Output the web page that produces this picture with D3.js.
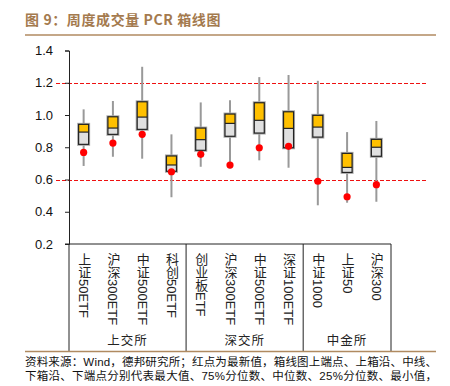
<!DOCTYPE html>
<html>
<head>
<meta charset="utf-8">
<script src="https://cdn.jsdelivr.net/npm/d3@7"></script>
<style>
  body { margin: 0; background: #fff; }
  svg { display: block; font-family: "Liberation Sans", Arial, "Noto Sans CJK SC", sans-serif; }
</style>
</head>
<body>
<div id="chart"></div>
<script>
// categories and groups
const categories = ['上证50ETF', '沪深300ETF', '中证500ETF', '科创50ETF', '创业板ETF', '沪深300ETF', '中证500ETF', '深证100ETF', '中证1000', '上证50', '沪深300'];
const groups = ['上交所', '深交所', '中金所'];
const groupSizes = [4, 4, 3];

// box plot values
const maxV   = [1.035, 1.087, 1.299, 0.880, 1.078, 1.091, 1.235, 1.248, 1.212, 0.894, 0.963];
const q3     = [0.942, 0.989, 1.082, 0.746, 0.919, 1.006, 1.076, 1.020, 0.998, 0.762, 0.849];
const median = [0.894, 0.919, 0.987, 0.690, 0.847, 0.948, 0.967, 0.917, 0.925, 0.675, 0.800];
const q1     = [0.818, 0.880, 0.911, 0.651, 0.781, 0.868, 0.888, 0.797, 0.863, 0.644, 0.744];
const minV   = [0.684, 0.741, 0.729, 0.490, 0.679, 0.667, 0.719, 0.673, 0.440, 0.456, 0.462];
const latest = [0.768, 0.826, 0.880, 0.648, 0.756, 0.690, 0.797, 0.806, 0.589, 0.493, 0.568];

const yTicks = [0.2, 0.4, 0.6, 0.8, 1.0, 1.2, 1.4];
const refLines = [1.2, 0.6];

const width = 450, height = 386;
const plotLeft = 69, plotRight = 391, plotTop = 50.5, plotBottom = 244;

const svg = d3.select('#chart').append('svg')
    .attr('width', width)
    .attr('height', height);

// title
svg.append('text')
    .attr('x', 25).attr('y', 25)
    .attr('fill', '#a47a4e')
    .attr('font-size', 14)
    .attr('font-weight', 'bold')
    .attr('letter-spacing', 0.6)
    .attr('font-family', '"Noto Sans CJK SC", sans-serif')
    .text('图 9：周度成交量 PCR 箱线图');
svg.append('line')
    .attr('x1', 25).attr('x2', 436).attr('y1', 35).attr('y2', 35)
    .attr('stroke', '#b08a60').attr('stroke-width', 1.5);

const x = d3.scaleBand()
    .domain(d3.range(categories.length))
    .range([plotLeft, plotRight]);

const y = d3.scaleLinear()
    .domain([0.2, 1.4])
    .range([plotBottom, plotTop]);

// reference lines
svg.append('g')
    .selectAll('line')
    .data(refLines)
    .join('line')
    .attr('x1', 56).attr('x2', 428)
    .attr('y1', d => Math.round(y(d)) + 0.5).attr('y2', d => Math.round(y(d)) + 0.5)
    .attr('stroke', '#ee1111')
    .attr('stroke-width', 1)
    .attr('stroke-dasharray', '4,2');

// y axis
const yAxis = svg.append('g')
    .attr('transform', `translate(${plotLeft},0)`)
    .call(d3.axisLeft(y).tickValues(yTicks).tickSize(4).tickPadding(12).tickFormat(d3.format('.1f')));
yAxis.select('.domain').attr('stroke', '#222');
yAxis.selectAll('.tick line').attr('stroke', '#222');
yAxis.selectAll('.tick text').attr('font-size', 13).attr('fill', '#111')
    .attr('font-family', '"Liberation Sans", Arial, sans-serif');

// table below the axis
const tableBottom = 351.5;
svg.append('line')
    .attr('x1', plotLeft - 4).attr('x2', plotRight).attr('y1', plotBottom).attr('y2', plotBottom)
    .attr('stroke', '#222');
const bounds = [0];
groupSizes.forEach(n => bounds.push(bounds[bounds.length - 1] + n));
const bx = i => i === categories.length ? x.range()[1] : x(i);
svg.append('g')
    .selectAll('line')
    .data(bounds)
    .join('line')
    .attr('x1', bx).attr('x2', bx)
    .attr('y1', plotBottom).attr('y2', tableBottom)
    .attr('stroke', '#222');

// category labels (vertical text)
svg.append('g')
    .selectAll('text')
    .data(categories)
    .join('text')
    .attr('x', (d, i) => x(i) + x.bandwidth() / 2)
    .attr('y', 253)
    .attr('font-size', 13)
    .attr('fill', '#222')
    .style('writing-mode', 'vertical-rl')
    .text(d => d);

// group labels
svg.append('g')
    .selectAll('text')
    .data(groups)
    .join('text')
    .attr('x', (d, i) => (bx(bounds[i]) + bx(bounds[i + 1])) / 2)
    .attr('y', 345)
    .attr('text-anchor', 'middle')
    .attr('font-size', 12.5)
    .attr('letter-spacing', 1)
    .attr('fill', '#222')
    .text(d => d);

// footer
svg.append('line')
    .attr('x1', 25).attr('x2', 436).attr('y1', tableBottom).attr('y2', tableBottom)
    .attr('stroke', '#b08a60').attr('stroke-width', 1.5);
const notes = [
    '资料来源：Wind，德邦研究所；红点为最新值，箱线图上端点、上箱沿、中线、',
    '下箱沿、下端点分别代表最大值、75%分位数、中位数、25%分位数、最小值，'
];
svg.append('g')
    .selectAll('text')
    .data(notes)
    .join('text')
    .attr('x', 25)
    .attr('y', (d, i) => 366 + i * 13.5)
    .attr('font-size', 11.5)
    .attr('fill', '#111')
    .attr('textLength', 412)
    .attr('lengthAdjust', 'spacing')
    .text(d => d);

// boxes
const bw = 10;
const boxes = svg.append('g');
const cx = i => x(i) + x.bandwidth() / 2;
const idx = d3.range(categories.length);

boxes.selectAll('.whisker')
    .data(idx)
    .join('line')
    .attr('class', 'whisker')
    .attr('x1', cx).attr('x2', cx)
    .attr('y1', i => y(maxV[i])).attr('y2', i => y(minV[i]))
    .attr('stroke', '#999')
    .attr('stroke-width', 2);

boxes.selectAll('.halo')
    .data(idx)
    .join('rect')
    .attr('class', 'halo')
    .attr('x', i => cx(i) - bw / 2)
    .attr('width', bw)
    .attr('y', i => y(q3[i]))
    .attr('height', i => y(q1[i]) - y(q3[i]))
    .attr('fill', 'none')
    .attr('stroke', '#aaa')
    .attr('stroke-width', 3);

boxes.selectAll('.upper')
    .data(idx)
    .join('rect')
    .attr('class', 'upper')
    .attr('x', i => cx(i) - bw / 2)
    .attr('width', bw)
    .attr('y', i => y(q3[i]))
    .attr('height', i => y(median[i]) - y(q3[i]))
    .attr('fill', '#ffc000');

boxes.selectAll('.lower')
    .data(idx)
    .join('rect')
    .attr('class', 'lower')
    .attr('x', i => cx(i) - bw / 2)
    .attr('width', bw)
    .attr('y', i => y(median[i]))
    .attr('height', i => y(q1[i]) - y(median[i]))
    .attr('fill', '#e0e0e0');

boxes.selectAll('.outline')
    .data(idx)
    .join('rect')
    .attr('class', 'outline')
    .attr('x', i => cx(i) - bw / 2)
    .attr('width', bw)
    .attr('y', i => y(q3[i]))
    .attr('height', i => y(q1[i]) - y(q3[i]))
    .attr('fill', 'none')
    .attr('stroke', '#222')
    .attr('stroke-width', 1.2);

boxes.selectAll('.median')
    .data(idx)
    .join('line')
    .attr('class', 'median')
    .attr('x1', i => cx(i) - bw / 2).attr('x2', i => cx(i) + bw / 2)
    .attr('y1', i => y(median[i])).attr('y2', i => y(median[i]))
    .attr('stroke', '#222')
    .attr('stroke-width', 1.2);

boxes.selectAll('circle')
    .data(idx)
    .join('circle')
    .attr('cx', cx)
    .attr('cy', i => y(latest[i]))
    .attr('r', 3.6)
    .attr('fill', '#ff0000');
</script>
</body>
</html>
